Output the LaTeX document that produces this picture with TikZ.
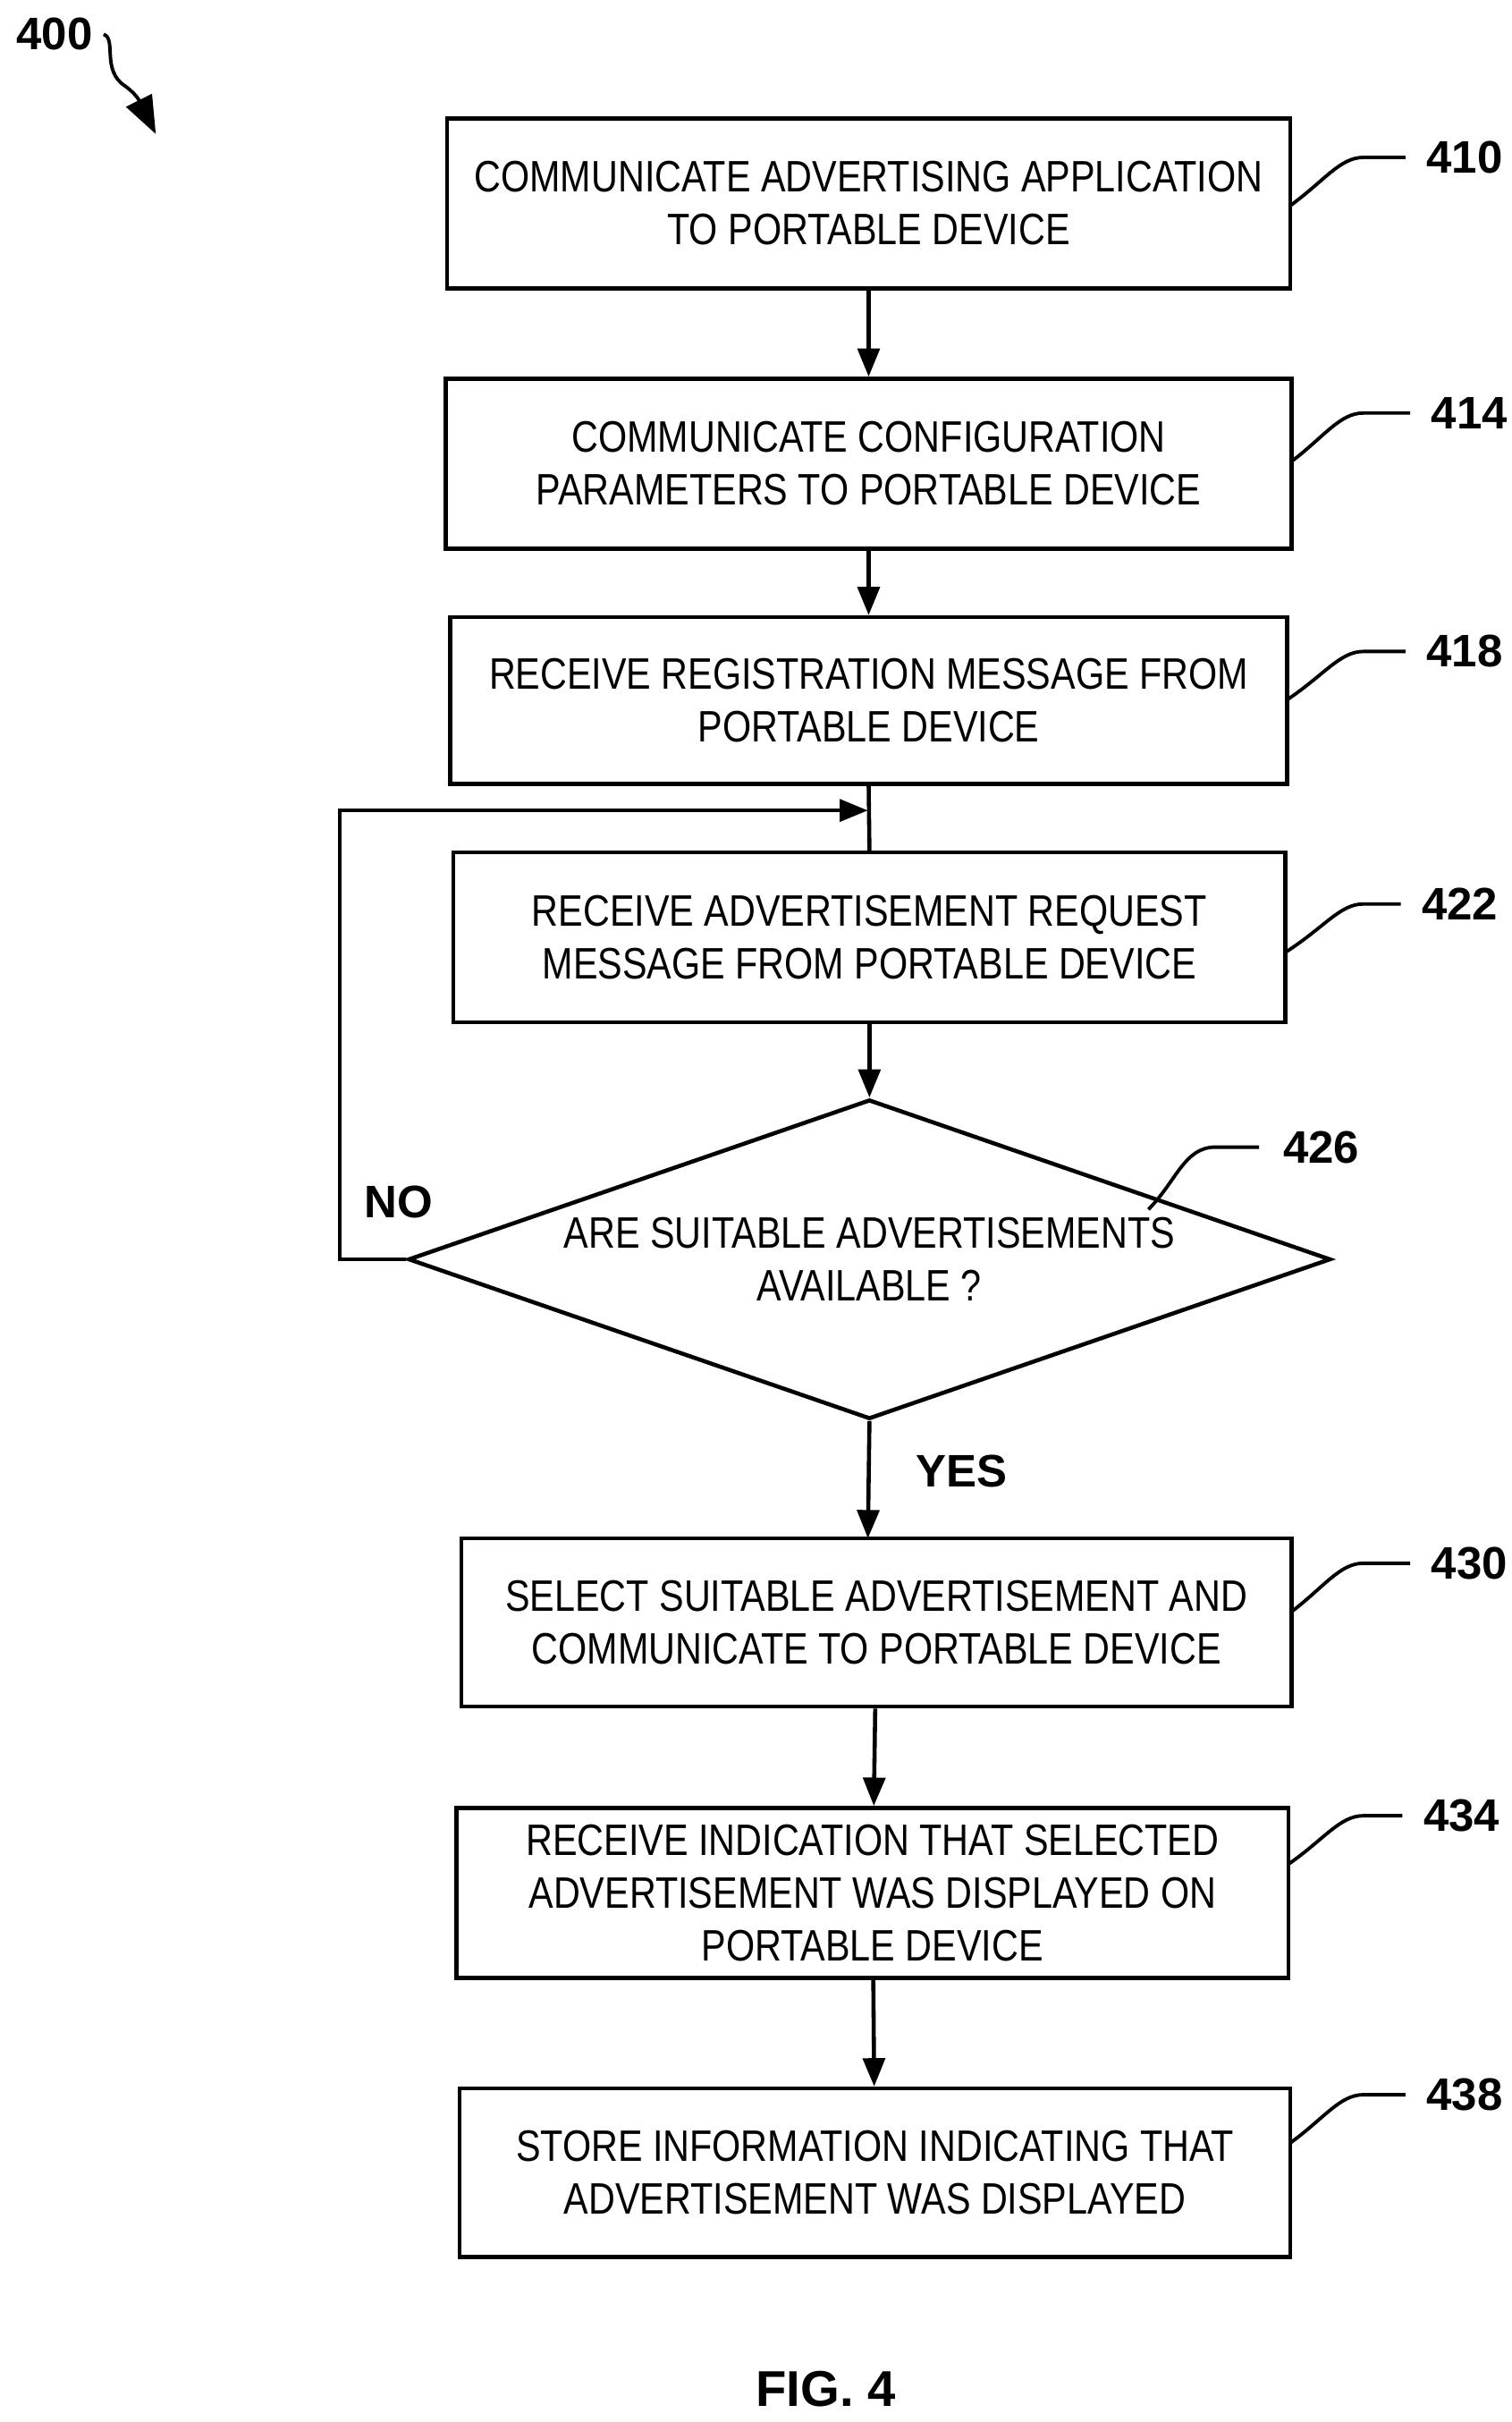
\documentclass[tikz,border=0pt]{standalone}
\usepackage{fontspec}
\setmainfont{Liberation Sans}
\newfontfamily\nar[FakeStretch=0.84]{Liberation Sans}
\usetikzlibrary{arrows.meta,shapes.geometric}
\begin{document}
\begin{tikzpicture}[x=0.01742cm,y=-0.01742cm,
  box/.style={draw,line width=1.3pt,inner sep=0pt,align=center,font=\nar\fontsize{14}{16.8}\selectfont},
  lab/.style={font=\bfseries\fontsize{14.5}{17}\selectfont},
  arr/.style={line width=1.3pt,-{Triangle[length=9pt,width=7pt]}},
  lead/.style={line width=1.1pt}]
\useasboundingbox (0,0) rectangle (970,1554);
\node[box,minimum width=541*0.01742cm,minimum height=109*0.01742cm] (b410) at (557.5,130.5) {COMMUNICATE ADVERTISING APPLICATION\\TO PORTABLE DEVICE};
\node[box,minimum width=543*0.01742cm,minimum height=109*0.01742cm] (b414) at (557.5,297.5) {COMMUNICATE CONFIGURATION\\PARAMETERS TO PORTABLE DEVICE};
\node[box,minimum width=537*0.01742cm,minimum height=107*0.01742cm] (b418) at (557.5,449.5) {RECEIVE REGISTRATION MESSAGE FROM\\PORTABLE DEVICE};
\node[box,minimum width=534*0.01742cm,minimum height=109*0.01742cm] (b422) at (558,601.5) {RECEIVE ADVERTISEMENT REQUEST\\MESSAGE FROM PORTABLE DEVICE};
\node[draw,line width=1.3pt,diamond,aspect=2.9,minimum width=592*0.01742cm,minimum height=205*0.01742cm,inner sep=0pt] (d426) at (558,808) {};
\node[font=\nar\fontsize{14}{16.8}\selectfont,align=center] (t426) at (558,808) {ARE SUITABLE ADVERTISEMENTS\\AVAILABLE ?};
\node[box,minimum width=533*0.01742cm,minimum height=108*0.01742cm] (b430) at (562.5,1041) {SELECT SUITABLE ADVERTISEMENT AND\\COMMUNICATE TO PORTABLE DEVICE};
\node[box,minimum width=534*0.01742cm,minimum height=109*0.01742cm] (b434) at (560,1214.5) {RECEIVE INDICATION THAT SELECTED\\ADVERTISEMENT WAS DISPLAYED ON\\PORTABLE DEVICE};
\node[box,minimum width=533*0.01742cm,minimum height=108*0.01742cm] (b438) at (561.5,1394) {STORE INFORMATION INDICATING THAT\\ADVERTISEMENT WAS DISPLAYED};
\draw[arr] (b410) -- (b414);
\draw[arr] (b414) -- (b418);
\coordinate (j) at (557,520);
\coordinate (c1) at (218,808);
\coordinate (c2) at (218,520);
\draw[line width=1.3pt] (b418.south) -- (b422.north);
\draw[arr] (d426.west) -- (c1) -- (c2) -- (j);
\draw[arr] (b422) -- (d426.north);
\draw[arr] (d426.south) -- (557,987);
\draw[arr] (b430) -- (b434);
\draw[arr] (b434) -- (b438);
\node[lab] (no) at (256,771) {NO};
\node[lab] (yes) at (617,944) {YES};
\foreach \n/\y/\bx/\lx in {410/101/828/940,414/265/829/943,418/418/826/940,422/580/825/937,430/1003/829/943,434/1165/827/938,438/1344/828/940}{
  \node[lab] (l\n) at (\lx,\y) {\n};
  \draw[lead] (\bx,\y+31) .. controls (850,\y+15) and (860,\y) .. (875,\y) -- (\lx-38,\y);
}
\node[lab] (l426) at (848,736) {426};
\draw[lead] (737,776) .. controls (755,758) and (760,736) .. (780,736) -- (808,736);
\node[lab] (l400) at (35,22) {400};
\draw[line width=1.1pt,-{Triangle[length=12pt,width=9pt]}] (l400.east) .. controls (75,25) and (65,45) .. (80,55) .. controls (90,62) and (92,70) .. (100,86);
\node[font=\bfseries\fontsize{16}{19}\selectfont] (fig) at (530,1533) {FIG. 4};
\end{tikzpicture}
\end{document}
